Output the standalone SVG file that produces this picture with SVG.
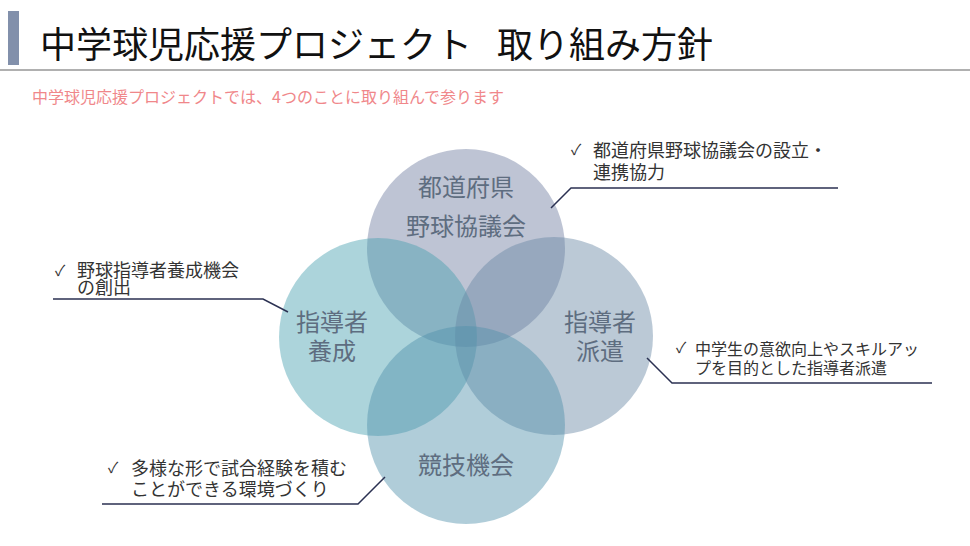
<svg xmlns="http://www.w3.org/2000/svg" width="970" height="546" viewBox="0 0 970 546">
<style>
text{font-family:"Noto Sans CJK JP","Noto Sans CJK SC",sans-serif;}
.title{font-size:36px;fill:#111;}
.sub{font-size:16px;fill:#f0878a;}
.ctext{font-size:24px;fill:#5e6d80;text-anchor:middle;}
.note{font-size:18px;fill:#333;}
.note2{font-size:16px;fill:#333;}
.chk{font-size:15px;fill:#333;}
.lead{fill:none;stroke:#2b3152;stroke-width:1.5;}
.c{opacity:0.45;}
</style>
<rect width="970" height="546" fill="#fff"/>
<g id="header">
<rect x="8" y="11" width="11" height="54" fill="#8290ab"/>
<text class="title" x="40" y="58">中学球児応援プロジェクト</text>
<text class="title" x="497" y="58">取り組み方針</text>
<rect x="0" y="69" width="970" height="2" fill="#b0b0b0"/>
<text class="sub" x="32" y="103">中学球児応援プロジェクトでは、4つのことに取り組んで参ります</text>
</g>
<g id="circles">
<circle id="c-top" class="c" cx="466" cy="248" r="99" fill="#6e7da0"/>
<circle id="c-left" class="c" cx="378" cy="337" r="99" fill="#46a0af"/>
<circle id="c-right" class="c" cx="554" cy="336" r="99" fill="#6987a5"/>
<circle id="c-bottom" class="c" cx="466" cy="425" r="99" fill="#5091aa"/>
</g>
<g id="node-top">
<text class="ctext" x="466" y="196">都道府県</text>
<text class="ctext" x="466" y="235">野球協議会</text>
</g>
<g id="node-left">
<text class="ctext" x="332" y="331">指導者</text>
<text class="ctext" x="332" y="360">養成</text>
</g>
<g id="node-right">
<text class="ctext" x="600" y="331">指導者</text>
<text class="ctext" x="600" y="360">派遣</text>
</g>
<g id="node-bottom">
<text class="ctext" x="466" y="474">競技機会</text>
</g>
<g id="connectors">
<polyline class="lead" points="551,208 571,188 838,188"/>
<polyline class="lead" points="647,358 672,383 932,383"/>
<polyline class="lead" points="53,299 263,299 288,312"/>
<polyline class="lead" points="102,504 358,504 385,477"/>
</g>
<g id="note-top">
<text class="chk" x="571" y="155">✓</text>
<text class="note" x="593" y="157">都道府県野球協議会の設立・</text>
<text class="note" x="593" y="179">連携協力</text>
</g>
<g id="note-right">
<text class="chk" x="676" y="353">✓</text>
<text class="note2" x="695" y="355">中学生の意欲向上やスキルアッ</text>
<text class="note2" x="695" y="374">プを目的とした指導者派遣</text>
</g>
<g id="note-left">
<text class="chk" x="55" y="276">✓</text>
<text class="note" x="77" y="277">野球指導者養成機会</text>
<text class="note" x="77" y="294">の創出</text>
</g>
<g id="note-bottom">
<text class="chk" x="108" y="473">✓</text>
<text class="note" x="131" y="475">多様な形で試合経験を積む</text>
<text class="note" x="131" y="496">ことができる環境づくり</text>
</g>
</svg>
